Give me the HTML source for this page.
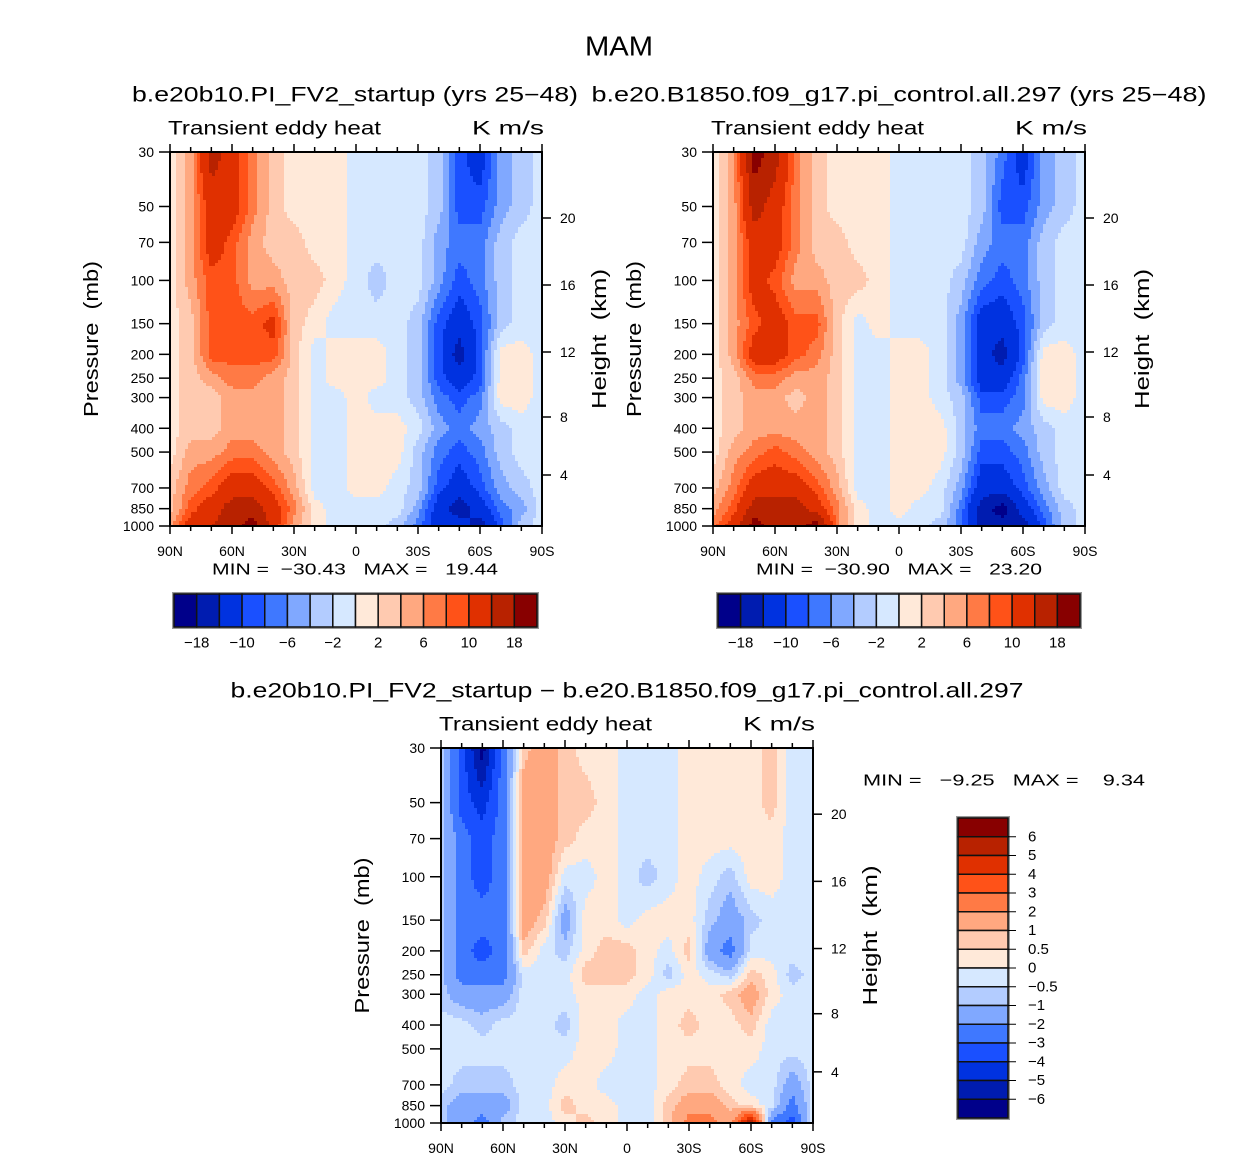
<!DOCTYPE html>
<html><head><meta charset="utf-8">
<style>
html,body{margin:0;padding:0;background:#fff;}
svg{display:block;font-family:"Liberation Sans",sans-serif;}
text{white-space:pre;}
</style></head>
<body>
<svg id="chart" width="1256" height="1159" viewBox="0 0 1256 1159" xmlns="http://www.w3.org/2000/svg">
<rect width="1256" height="1159" fill="#fff"/>
</svg>
<script>
// ---------- data ----------
const latCategories = ['90N','80N','70N','60N','50N','40N','30N','20N','10N','0','10S','20S','30S','40S','50S','60S','70S','80S','90S'];
const pressureLevels = [30,50,70,100,150,200,250,300,400,500,700,850,1000];
const latTickLabels = ['90N','60N','30N','0','30S','60S','90S'];
const pressureTickLabels = [30,50,70,100,150,200,250,300,400,500,700,850,1000];
const heightTickLabels = [20,16,12,8,4];
const topLevels = [-18,-14,-10,-8,-6,-4,-2,0,2,4,6,8,10,14,18];
const topLevelLabels = ['-18','-10','-6','-2','2','6','10','18'];
const diffLevels = [-6,-5,-4,-3,-2,-1,-0.5,0,0.5,1,2,3,4,5,6];
const diffLevelLabels = ['6','5','4','3','2','1','0.5','0','-0.5','-1','-2','-3','-4','-5','-6'];
const palette = ['#00008a','#001cb0','#0032e0','#1a50ff','#3f78ff','#80a8ff','#b3ccff','#d6e8ff','#ffe9d9','#ffcab0','#ffa880','#ff7a45','#ff5218','#e03000','#b82200','#880000'];
// each inner array: one latitude column, values at pressureLevels (top to bottom)
const leftValues = [
[1,1,1,1,1,1,1,1,1,1,3,3,5],
[5,5,5,5,3,3,3,3,3,5,7,9,12],
[16,12,12,9,9,9,5,3,3,5,9,12,14],
[12,12,9,9,9,9,7,5,5,7,12,16,16],
[7,7,5,5,9,9,7,5,5,7,12,16,20],
[3,3,3,5,11,9,5,5,5,5,9,12,12],
[1,1,3,3,3,3,3,3,3,3,5,7,5],
[1,1,1,3,1,-1,-1,-1,-1,-1,-1,1,1],
[1,1,1,1,-1,1,1,-1,-1,-1,-1,-1,-1],
[-1,-1,-1,-1,-1,1,1,1,1,1,1,-1,-1],
[-1,-1,-1,-3,-1,1,1,-1,1,1,1,-1,-1],
[-1,-1,-1,-1,-1,-1,-1,-1,1,1,-1,-1,-3],
[-1,-1,-1,-1,-3,-3,-3,-3,-1,-3,-3,-5,-7],
[-3,-3,-5,-5,-9,-9,-9,-7,-5,-7,-9,-12,-12],
[-9,-9,-7,-9,-12,-16,-12,-9,-7,-9,-12,-16,-12],
[-12,-9,-7,-7,-9,-9,-9,-7,-5,-7,-9,-12,-16],
[-5,-5,-3,-3,-3,1,1,1,-3,-3,-5,-7,-9],
[-3,-3,-1,-1,-1,1,1,1,-1,-1,-3,-5,-3],
[-1,-1,-1,-1,-1,-1,-1,-1,-1,-1,-1,-1,-1]
];
const rightValues = [
[1,1,1,1,1,1,1,1,1,1,3,5,7],
[5,5,5,5,5,5,3,3,3,5,7,9,12],
[20,16,12,12,9,12,7,5,5,7,12,16,20],
[16,12,12,9,12,12,7,5,5,9,12,16,16],
[7,7,7,5,9,9,5,3,5,7,12,16,16],
[3,3,3,5,9,7,5,5,5,5,9,12,20],
[1,1,3,3,3,3,3,3,3,3,5,7,7],
[1,1,1,3,-1,-1,-1,-1,-1,-1,-1,1,1],
[1,1,1,1,1,-1,-1,-1,-1,-1,-1,-1,-1],
[-1,-1,-1,-1,-1,1,1,1,1,1,1,1,-1],
[-1,-1,-1,-1,-1,1,1,1,1,1,1,-1,-1],
[-1,-1,-1,-1,-1,-1,-1,-1,1,1,-1,-1,-3],
[-1,-1,-1,-3,-5,-5,-5,-3,-3,-3,-5,-7,-7],
[-3,-3,-5,-7,-12,-12,-12,-9,-7,-9,-12,-16,-16],
[-7,-9,-7,-9,-12,-16,-12,-9,-7,-9,-12,-20,-16],
[-12,-9,-7,-7,-9,-9,-7,-7,-5,-7,-9,-12,-16],
[-5,-5,-3,-3,-3,1,1,1,-3,-3,-5,-7,-9],
[-3,-3,-1,-1,-1,1,1,1,-1,-1,-1,-3,-3],
[-1,-1,-1,-1,-1,-1,-1,-1,-1,-1,-1,-1,-1]
];
const diffValues = [
[-.75,-.75,-.75,-.75,-.75,-.75,-.75,-.75,-.25,-.25,-.25,-.75,-.75],
[-3.5,-3.5,-2.5,-2.5,-2.5,-2.5,-2.5,-1.5,-.25,-.25,-.75,-1.5,-1.5],
[-6.5,-4.5,-3.5,-3.5,-2.5,-3.5,-2.5,-1.5,-.75,-.25,-.75,-1.5,-2.5],
[-2.5,-2.5,-2.5,-2.5,-2.5,-2.5,-2.5,-1.5,-.25,-.25,-.75,-1.5,-.75],
[.75,1.5,1.5,1.5,1.5,.75,-.25,-.25,-.25,-.25,-.25,-.25,-.25],
[1.5,1.5,1.5,1.5,.75,-.25,-.25,-.25,-.25,-.25,-.25,-.25,-.25],
[.75,.75,.75,-.25,-1.5,-.75,-.25,-.25,-.75,-.25,.25,.75,.25],
[.25,.75,.25,-.25,.25,.25,.75,.25,.25,.25,.25,.25,.75],
[.25,.25,.25,.25,.25,.75,.75,.25,.25,.25,-.25,.25,.25],
[-.25,-.25,-.25,-.25,-.25,.75,.75,.25,-.25,-.25,-.25,-.25,-.25],
[-.25,-.25,-.25,-.75,.25,.25,.25,-.25,-.25,-.25,-.25,-.25,-.25],
[-.25,-.25,-.25,-.25,.25,-.25,-.75,.25,.25,.25,.25,.75,.75],
[.25,.25,.25,.25,.25,.75,.25,.25,.75,.25,.75,1.5,2.5],
[.25,.25,.25,-.25,-.75,-1.5,-.25,.25,.25,.25,.75,1.5,2.5],
[.25,.25,.25,-.75,-1.5,-2.5,-.75,.75,.25,.25,.25,.75,1.5],
[.25,.25,.25,.25,-.75,-.25,.75,1.5,.75,.25,-.25,.25,6.5],
[.75,.75,.25,.25,-.25,-.25,.25,.25,-.25,-.25,-.25,-.25,-2.5],
[-.25,-.25,-.25,-.25,-.25,-.25,-.75,-.25,-.25,-.25,-1.5,-2.5,-3.5],
[-.25,-.25,-.25,-.25,-.25,-.25,-.25,-.25,-.25,-.25,-.25,-.25,-.25]
];
const leftStats = ['-30.43','19.44'];
const rightStats = ['-30.90','23.20'];
const diffStats = ['-9.25','9.34'];

// ---------- drawing ----------
const NS = 'http://www.w3.org/2000/svg';
const svg = document.getElementById('chart');
function mk(tag, parent, attrs, name) {
  const el = document.createElementNS(NS, tag);
  for (const k in attrs) el.setAttribute(k, attrs[k]);
  
  
  parent.appendChild(el);
  return el;
}
function txt(parent, x, y, s, size, anchor, name, len, rot) {
  const a = {x:x, y:y, 'font-size':size, 'text-anchor':anchor||'middle', 'dominant-baseline':'central', fill:'#000'};
  if (len) { a.textLength = len; a.lengthAdjust = 'spacingAndGlyphs'; }
  if (rot) a.transform = 'rotate(' + rot + ' ' + x + ' ' + y + ')';
  const t = mk('text', parent, a, name);
  t.textContent = s;
  return t;
}
function levelIndex(v, levels) {
  let i = 0;
  while (i < levels.length && v >= levels[i]) i++;
  return i;
}
const LOGR = Math.log(1000/30);
function makeY(y0, h) { return p => y0 + h * Math.log(p/30) / LOGR; }
function makeX(x0, w) { return i => x0 + w * i / (latCategories.length - 1); }

function sample(values, fx, fy) {
  const nc = values.length;
  let i = Math.min(Math.floor(fx), nc - 2); const tx = fx - i;
  const lp = pressureLevels.map(p => Math.log(p));
  let j = 0; while (j < lp.length - 2 && fy > lp[j+1]) j++;
  const ty = Math.max(0, Math.min(1, (fy - lp[j]) / (lp[j+1] - lp[j])));
  const a = values[i][j], b = values[i+1][j], c = values[i][j+1], d = values[i+1][j+1];
  return (a*(1-tx) + b*tx) * (1-ty) + (c*(1-tx) + d*tx) * ty;
}

function drawPanel(cfg) {
  const g = mk('g', svg, {}, cfg.name);
  const {x0, y0, w, h, values, levels} = cfg;
  const X = makeX(x0, w), Y = makeY(y0, h);
  const field = mk('g', g, {}, cfg.name + '-contour-field');
  const step = 3;
  for (let py = y0; py < y0 + h; py += step) {
    const yc = Math.min(py + step/2, y0 + h);
    const lpv = Math.log(30) + (yc - y0) / h * LOGR;
    let runStart = x0, runIdx = -1;
    for (let px = x0; px <= x0 + w; px += step) {
      let idx = -2;
      if (px < x0 + w) {
        const fx = (px + step/2 - x0) / w * (latCategories.length - 1);
        idx = levelIndex(sample(values, Math.min(fx, latCategories.length - 1.0001), lpv), levels);
      }
      if (idx !== runIdx) {
        if (runIdx >= 0) {
          const r = document.createElementNS(NS, 'rect');
          r.setAttribute('x', runStart); r.setAttribute('y', py);
          r.setAttribute('width', Math.min(px, x0 + w) - runStart + 0.6);
          r.setAttribute('height', Math.min(step, y0 + h - py) + 0.6);
          r.setAttribute('fill', palette[runIdx]);
          
          
          field.appendChild(r);
        }
        runStart = px; runIdx = idx;
      }
    }
  }
  mk('rect', g, {x:x0, y:y0, width:w, height:h, fill:'none', stroke:'#000', 'stroke-width':2}, cfg.name + '-frame');
  const ax = mk('g', g, {stroke:'#000', 'stroke-width':1.5}, cfg.name + '-lat-ticks');
  for (let i = 0; i < latCategories.length; i++) {
    const major = i % 3 === 0, L = major ? 8 : 5, x = X(i);
    mk('line', ax, {x1:x, y1:y0, x2:x, y2:y0 - L}, 'top-tick');
    mk('line', ax, {x1:x, y1:y0 + h, x2:x, y2:y0 + h + L}, 'bottom-tick');
  }
  latTickLabels.forEach((s, k) => txt(g, X(k*3), y0 + h + 25, s, 14, 'middle', 'x-tick-label'));
  pressureTickLabels.forEach(p => {
    const y = Y(p);
    mk('line', ax, {x1:x0, y1:y, x2:x0 - 11, y2:y}, 'pressure-tick');
    txt(g, x0 - 16, y, String(p), 14, 'end', 'y-tick-label');
  });
  const hOff = [66, 133, 200, 265, 323];
  heightTickLabels.forEach((z, k) => {
    const y = y0 + hOff[k] * h / 374;
    mk('line', ax, {x1:x0 + w, y1:y, x2:x0 + w + 9, y2:y}, 'height-tick');
    txt(g, x0 + w + 18, y, String(z), 14, 'start', 'height-tick-label');
  });
  txt(g, x0 - 78, y0 + h/2, 'Pressure  (mb)', 20, 'middle', 'y-axis-title', 156, -90);
  txt(g, x0 + w + 58, y0 + h/2, 'Height  (km)', 20, 'middle', 'right-axis-title', 140, -90);
  txt(g, x0 - 2, y0 - 23, 'Transient eddy heat', 19, 'start', 'variable-label', 213);
  txt(g, x0 + w + 2, y0 - 23, 'K m/s', 19, 'end', 'units-label', 72);
}

function hColorbar(x0, y0, w, h, name) {
  const g = mk('g', svg, {}, name);
  const bw = w / 16;
  mk('rect', g, {x:x0-1, y:y0-1, width:w+2, height:h+2, fill:'none', stroke:'#999', 'stroke-width':2}, name + '-outline');
  palette.forEach((c, i) => mk('rect', g, {x:x0 + i*bw, y:y0, width:bw, height:h, fill:c, stroke:'#111', 'stroke-width':1.5}, 'colorbar-box'));
  topLevelLabels.forEach((s, k) => txt(g, x0 + (2*k + 1) * bw, y0 + h + 16, s.replace('-', '\u2212'), 15, 'middle', 'colorbar-label'));
}

txt(svg, 619, 46, 'MAM', 28, 'middle', 'figure-title', 68);
txt(svg, 355, 95, 'b.e20b10.PI_FV2_startup (yrs 25\u221248)', 21, 'middle', 'left-panel-title', 446);
txt(svg, 899, 95, 'b.e20.B1850.f09_g17.pi_control.all.297 (yrs 25\u221248)', 21, 'middle', 'right-panel-title', 615);
txt(svg, 627, 691, 'b.e20b10.PI_FV2_startup \u2212 b.e20.B1850.f09_g17.pi_control.all.297', 21, 'middle', 'difference-panel-title', 793);

drawPanel({name:'left-panel', x0:170, y0:152, w:372, h:374, values:leftValues, levels:topLevels});
drawPanel({name:'right-panel', x0:713, y0:152, w:372, h:374, values:rightValues, levels:topLevels});
drawPanel({name:'difference-panel', x0:441, y0:748, w:372, h:375, values:diffValues, levels:diffLevels});

txt(svg, 355, 570, 'MIN =  ' + leftStats[0].replace('-', '\u2212') + '   MAX =   ' + leftStats[1], 16, 'middle', 'left-min-max', 286);
txt(svg, 899, 570, 'MIN =  ' + rightStats[0].replace('-', '\u2212') + '   MAX =   ' + rightStats[1], 16, 'middle', 'right-min-max', 286);
txt(svg, 1004, 781, 'MIN =   ' + diffStats[0].replace('-', '\u2212') + '   MAX =    ' + diffStats[1], 16, 'middle', 'difference-min-max', 282);

hColorbar(174, 594, 363, 33, 'left-colorbar');
hColorbar(718, 594, 362, 33, 'right-colorbar');

(function(){
  const g = mk('g', svg, {}, 'difference-colorbar');
  const x0 = 958, y0 = 818, w = 50, h = 300, bh = h / 16;
  mk('rect', g, {x:x0-1, y:y0-1, width:w+2, height:h+2, fill:'none', stroke:'#999', 'stroke-width':2}, 'difference-colorbar-outline');
  for (let i = 0; i < 16; i++) {
    mk('rect', g, {x:x0, y:y0 + i*bh, width:w, height:bh, fill:palette[15 - i], stroke:'#111', 'stroke-width':1.5}, 'colorbar-box');
  }
  diffLevelLabels.forEach((s, k) => {
    const y = y0 + (k + 1) * bh;
    mk('line', g, {x1:x0 + w, y1:y, x2:x0 + w + 8, y2:y, stroke:'#000', 'stroke-width':1}, 'colorbar-tick');
    txt(g, x0 + w + 20, y, s.replace('-', '\u2212'), 15, 'start', 'colorbar-label');
  });
})();
</script>
</body></html>
